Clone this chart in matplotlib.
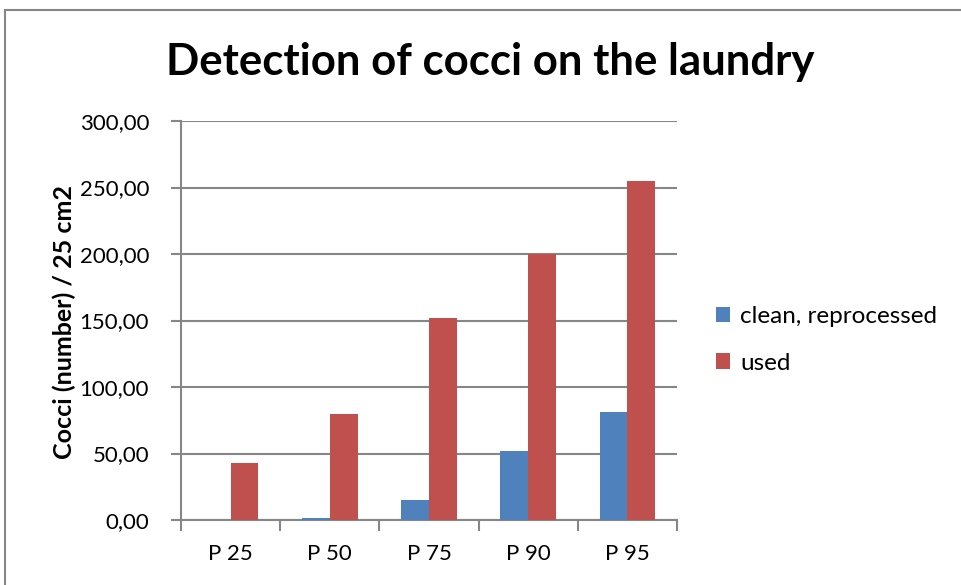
import matplotlib.pyplot as plt
from matplotlib.patches import Rectangle
import numpy as np

# -- Data --
categories = ["P 25", "P 50", "P 75", "P 90", "P 95"]
clean = [0, 1.5, 15, 52, 81]
used = [43, 80, 152, 200, 255]
yticks = [0, 50, 100, 150, 200, 250, 300]

blue = "#4F81BD"
red = "#C0504D"
grid_col = "#868686"
font = "Lato"

# -- Plot --
fig = plt.figure(figsize=(9.61, 5.85), dpi=100, facecolor="white")
ax = fig.add_axes([181 / 961, 1 - 520 / 585, (677 - 181) / 961, (520 - 121) / 585])

x = np.arange(len(categories))
w = 0.28
ax.bar(x - w / 2, clean, width=w, color=blue, label="clean, reprocessed", zorder=3)
ax.bar(x + w / 2, used, width=w, color=red, label="used", zorder=3)

ax.set_xlim(-0.5, len(categories) - 0.5)
ax.set_ylim(0, 300)
ax.set_yticks(yticks)
ax.set_yticklabels([f"{v:.2f}".replace(".", ",") for v in yticks], family=font, fontsize=16)
ax.set_xticks(x)
ax.set_xticklabels(categories, family=font, fontsize=16)
ax.tick_params(axis="x", length=0, pad=17)
ax.set_xticks(np.arange(len(categories) + 1) - 0.5, minor=True)
ax.tick_params(axis="x", which="minor", length=8, width=1.5, color=grid_col)
ax.tick_params(axis="y", length=7, width=1.5, color=grid_col, pad=16)

# -- Cosmetics --
ax.grid(axis="y", color=grid_col, linewidth=1.5, zorder=0)
for s in ["top", "right"]:
    ax.spines[s].set_visible(False)
for s in ["left", "bottom"]:
    ax.spines[s].set_color(grid_col)
    ax.spines[s].set_linewidth(1.5)

fig.text(64 / 961, 1 - 322 / 585, "Cocci (number) / 25 cm2", family=font, fontsize=18,
         weight="bold", rotation=90, ha="center", va="center")
fig.text(490 / 961, 1 - 62 / 585, "Detection of cocci on the laundry", family=font,
         fontsize=31.5, weight="bold", ha="center", va="center")

ax.legend(loc="center left", bbox_to_anchor=(694 / 961, 1 - 340 / 585),
          bbox_transform=fig.transFigure, frameon=False, prop={"family": font, "size": 17.5},
          handlelength=0.6, handleheight=0.6, handletextpad=0.4, labelspacing=1.05)

# outer chart border
fig.patches.append(Rectangle((5 / 961, -0.1), 1.1, 1 - 10 / 585 + 0.1, transform=fig.transFigure,
                             fill=False, edgecolor=grid_col, linewidth=1.5))

fig.savefig("out.png", dpi=100)
